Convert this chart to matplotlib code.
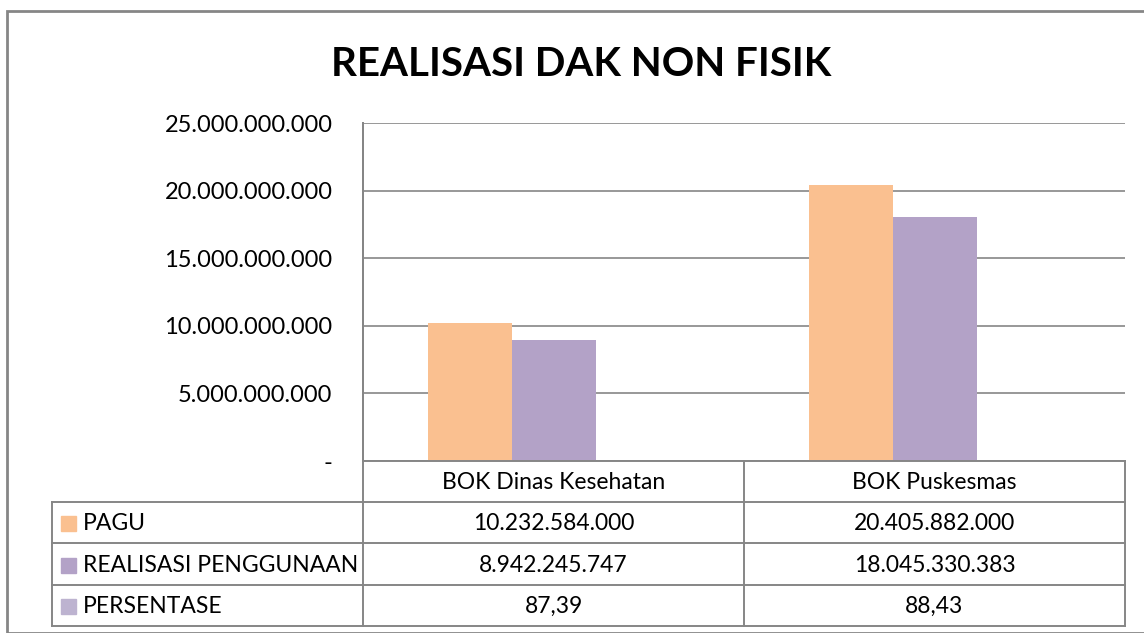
import matplotlib.pyplot as plt
from matplotlib.lines import Line2D
from matplotlib.patches import Rectangle

plt.rcParams['font.family'] = ['Lato', 'DejaVu Sans']

categories = ["BOK Dinas Kesehatan", "BOK Puskesmas"]
series_names = ["PAGU", "REALISASI PENGGUNAAN", "PERSENTASE"]
pagu = [10232584000, 20405882000]
realisasi = [8942245747, 18045330383]
persentase = [87.39, 88.43]
pagu_labels = ["10.232.584.000", "20.405.882.000"]
realisasi_labels = ["8.942.245.747", "18.045.330.383"]
persentase_labels = ["87,39", "88,43"]
colors = ["#FAC090", "#B3A2C7", "#BDB3D0"]
yticks = [0, 5e9, 10e9, 15e9, 20e9, 25e9]

W, H = 1144, 633
GRID = "#868686"


def fx(px):
    return px / W


def fy(py):
    return 1 - py / H


def fmt_thousands(v):
    if v == 0:
        return "-"
    return f"{int(v):,}".replace(",", ".")


fig = plt.figure(figsize=(W / 100, H / 100), dpi=100)

# plot area in pixel coords
left, right, top, bottom = 363, 1125, 123, 461
ax = fig.add_axes([fx(left), fy(bottom), fx(right - left), (bottom - top) / H])

values = [pagu, realisasi, persentase]
bar_w = 84 / 381
for i, (vals, col) in enumerate(zip(values, colors)):
    xs = [c + (i - 1) * bar_w for c in range(len(categories))]
    ax.bar(xs, vals, width=bar_w, color=col, zorder=3)

ax.set_xlim(-0.5, len(categories) - 0.5)
ax.set_ylim(0, 25e9)
ax.set_yticks(yticks)
ax.set_yticklabels([fmt_thousands(t) for t in yticks], fontsize=17)
ax.tick_params(axis="y", length=0, pad=22)
ax.set_xticks([])
ax.grid(axis="y", color=GRID, linewidth=1.2, zorder=0)
for s in ["top", "right", "bottom"]:
    ax.spines[s].set_visible(False)
ax.spines["left"].set_color(GRID)
ax.spines["left"].set_linewidth(1.2)

fig.text(fx(581), fy(65), "REALISASI DAK NON FISIK", ha="center", va="center",
         fontsize=29, fontweight="bold")

# data table below the chart
col_x = [52, 363, 744, 1125]
row_y = [461, 502, 543, 585, 626]


def hline(x0, x1, y):
    fig.add_artist(Line2D([fx(x0), fx(x1)], [fy(y), fy(y)], color=GRID, lw=1.4))


def vline(x, y0, y1):
    fig.add_artist(Line2D([fx(x), fx(x)], [fy(y0), fy(y1)], color=GRID, lw=1.4))


hline(363, 1125, row_y[0])
for y in row_y[1:]:
    hline(col_x[0], col_x[3], y)
vline(col_x[0], row_y[1], row_y[4])
vline(col_x[1], top, row_y[4])
vline(col_x[2], row_y[0], row_y[4])
vline(col_x[3], row_y[0], row_y[4])

fs = 16.5
for j, cat in enumerate(categories):
    cx = (col_x[j + 1] + col_x[j + 2]) / 2
    fig.text(fx(cx), fy((row_y[0] + row_y[1]) / 2 + 1), cat, ha="center", va="center", fontsize=fs)

rows = [pagu_labels, realisasi_labels, persentase_labels]
for r, (name, labels, col) in enumerate(zip(series_names, rows, colors)):
    cy = (row_y[r + 1] + row_y[r + 2]) / 2 + 1
    fig.add_artist(Rectangle((fx(61), fy(cy + 7.5)), fx(15), 15 / H, color=col,
                             transform=fig.transFigure))
    fig.text(fx(83), fy(cy), name, ha="left", va="center", fontsize=fs)
    for j, lab in enumerate(labels):
        cx = (col_x[j + 1] + col_x[j + 2]) / 2
        fig.text(fx(cx), fy(cy), lab, ha="center", va="center", fontsize=fs)

# outer chart border
fig.add_artist(Rectangle((fx(7), 0), fx(W), fy(11), fill=False, edgecolor=GRID, lw=2,
                         transform=fig.transFigure))

fig.savefig("out.png", dpi=100)
